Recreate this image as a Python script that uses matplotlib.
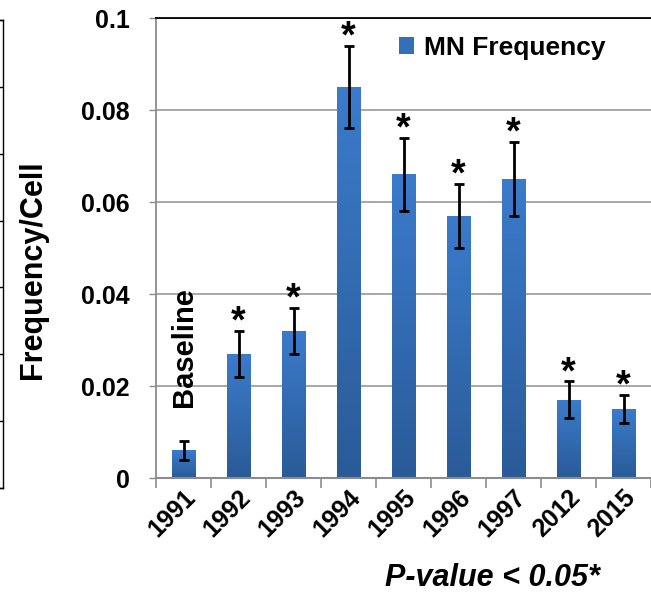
import numpy as np
import matplotlib
matplotlib.use('Agg')
import matplotlib.pyplot as plt
from matplotlib.patches import Patch

plt.rcParams['font.family'] = ['Liberation Sans', 'DejaVu Sans']

# data
years = ['1991', '1992', '1993', '1994', '1995', '1996', '1997', '2012', '2015']
freq = [0.006, 0.027, 0.032, 0.085, 0.066, 0.057, 0.065, 0.017, 0.015]
err = [0.002, 0.005, 0.005, 0.009, 0.008, 0.007, 0.008, 0.004, 0.003]
signif = [False, True, True, True, True, True, True, True, True]

fig = plt.figure(figsize=(6.51, 5.98), dpi=100)
ax = fig.add_axes([156/651, 120/598, 495/651, 460/598])

x = np.arange(len(years))
bars = ax.bar(x, freq, width=0.42, color='#3470b8', zorder=2)

# vertical gradient inside each bar
grad = np.linspace(0, 1, 100).reshape(-1, 1)
cmap = matplotlib.colors.LinearSegmentedColormap.from_list('b', ['#2a5b98', '#3b7bcb'])
for b in bars:
    im = ax.imshow(grad, cmap=cmap, aspect='auto', origin='lower',
                   extent=[b.get_x(), b.get_x() + b.get_width(), 0, b.get_height()], zorder=2)
    im.set_clip_path(b)

ax.errorbar(x, freq, yerr=err, fmt='none', ecolor='black', elinewidth=2,
            capsize=3.5, capthick=2, zorder=3)

for xi, f, e, s in zip(x, freq, err, signif):
    if s:
        ax.annotate('*', (xi, f + e), xytext=(0, 6), textcoords='offset points',
                    ha='center', va='center', fontsize=27, fontweight='bold', zorder=4)

ax.text(0, 0.0284, 'Baseline', rotation=90, ha='center', va='center',
        fontsize=21, fontweight='bold')

ax.set_xlim(-0.5, len(years) - 0.5)
ax.set_ylim(0, 0.1)
ax.set_yticks([0, 0.02, 0.04, 0.06, 0.08, 0.1])
ax.set_yticklabels(['0', '0.02', '0.04', '0.06', '0.08', '0.1'], fontsize=18, fontweight='bold')
ax.yaxis.grid(True, color='#a0a0a0', lw=1.3, zorder=0)
ax.set_axisbelow(True)

ax.set_xticks(x)
ax.set_xticklabels(years, rotation=45, ha='right', va='top', rotation_mode='anchor',
                   fontsize=18, fontweight='bold')
ax.tick_params(axis='x', length=0, pad=5)
ax.set_xticks(np.arange(len(years) + 1) - 0.5, minor=True)
ax.tick_params(axis='x', which='minor', length=7, color='#8c8c8c', width=1.2)
ax.tick_params(axis='y', length=5, color='#8c8c8c', width=1, pad=14)

ax.spines['right'].set_visible(False)
ax.spines['top'].set_color('black')
ax.spines['top'].set_linewidth(1.3)
ax.spines['left'].set_color('#8c8c8c')
ax.spines['left'].set_linewidth(1.3)
ax.spines['bottom'].set_color('#8c8c8c')
ax.spines['bottom'].set_linewidth(1.5)

# y label sits a little below the axis centre
fig.text(33/651, 1 - 270/598, 'Frequency/Cell', rotation=90, ha='center', va='center',
         fontsize=22, fontweight='bold')

handle = Patch(facecolor='#3470b8')
ax.legend([handle], ['MN Frequency'], loc='center left', bbox_to_anchor=(0.49, 0.935),
          frameon=False, borderpad=0, borderaxespad=0, handlelength=0.6,
          handleheight=0.6, handletextpad=0.35, prop={'size': 19, 'weight': 'bold'})

fig.text(492/651, 1 - 578/598, 'P-value < 0.05*', ha='center', va='center',
         fontsize=22, fontweight='bold', fontstyle='italic')

# edge of the neighbouring panel cut off at the left
ax0 = fig.add_axes([-0.2, 1 - 488/598, 0.2 + 3/651, 468/598])
ax0.set_xlim(0, 1)
ax0.set_ylim(0, 7)
ax0.set_xticks([])
ax0.yaxis.tick_right()
ax0.set_yticks(range(8))
ax0.set_yticklabels([])
ax0.tick_params(axis='y', direction='in', length=3, width=1)
for sp in ax0.spines.values():
    sp.set_linewidth(1)

fig.savefig('out.png', dpi=100)
